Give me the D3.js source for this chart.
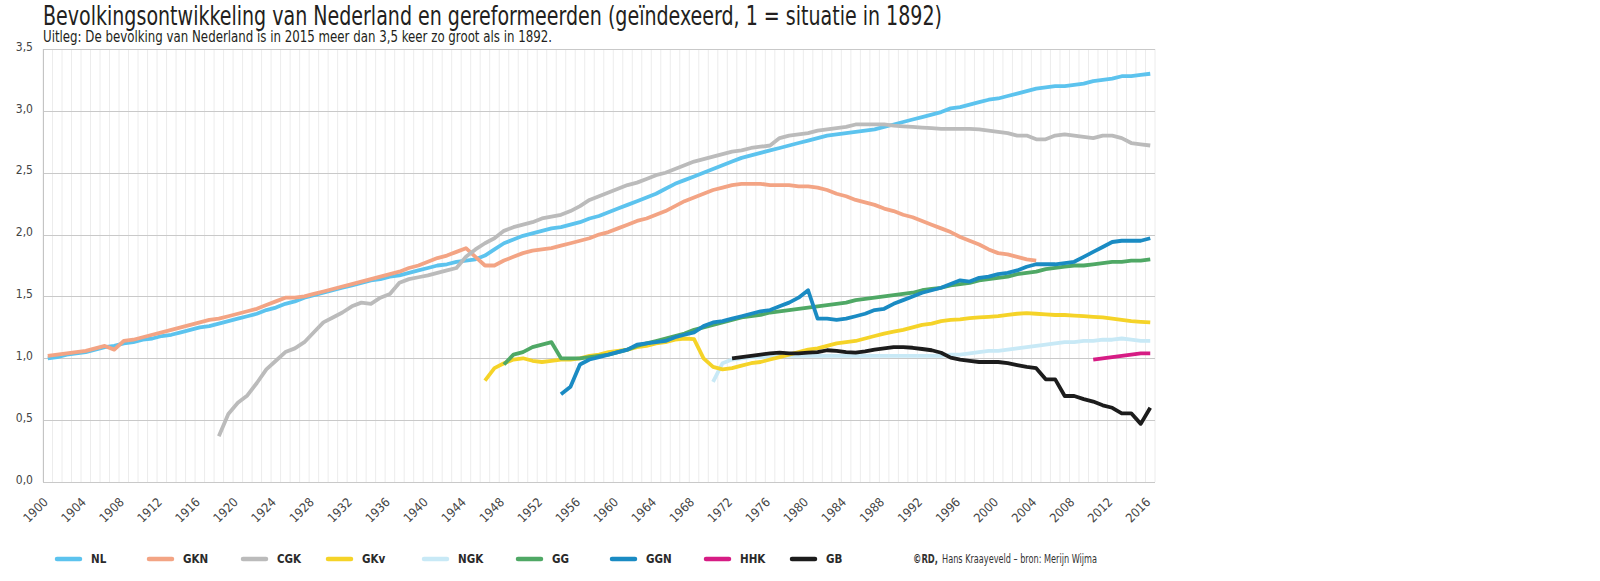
<!DOCTYPE html>
<html><head><meta charset="utf-8">
<script src="https://cdn.jsdelivr.net/npm/d3@7"></script>
<style>
body{margin:0;background:#fff;}
svg{display:block;font-family:"Liberation Sans Narrow","DejaVu Sans Condensed","Liberation Sans",sans-serif;}
</style></head><body>
<svg id="chart" width="1600" height="581"></svg>
<script>
// ---------- DATA ----------
const years = d3.range(1900, 2017);
const tickYears = [1900,1904,1908,1912,1916,1920,1924,1928,1932,1936,1940,1944,1948,1952,1956,1960,1964,1968,1972,1976,1980,1984,1988,1992,1996,2000,2004,2008,2012,2016];
const yTicks = [0,0.5,1,1.5,2,2.5,3,3.5];
const seriesNames = ["NL","GKN","CGK","GKv","NGK","GG","GGN","HHK","GB"];
const seriesColors = ["#5cc3ee","#f3a484","#bbbbbb","#f5d328","#c8e9f6","#4fa865","#1a8bc3","#d61c84","#1c1c1c"];
const seriesStart = [1900,1900,1918,1946,1970,1948,1954,2010,1972];

const NL = [1.00,1.01,1.03,1.04,1.05,1.07,1.09,1.10,1.12,1.13,
1.15,1.16,1.18,1.19,1.21,1.23,1.25,1.26,1.28,1.30,
1.32,1.34,1.36,1.39,1.41,1.44,1.46,1.49,1.51,1.53,
1.55,1.57,1.59,1.61,1.63,1.64,1.66,1.67,1.69,1.71,
1.73,1.75,1.76,1.78,1.79,1.80,1.83,1.88,1.93,1.96,
1.99,2.01,2.03,2.05,2.06,2.08,2.10,2.13,2.15,2.18,
2.21,2.24,2.27,2.30,2.33,2.37,2.41,2.44,2.47,2.50,
2.53,2.56,2.59,2.62,2.64,2.66,2.68,2.70,2.72,2.74,
2.76,2.78,2.80,2.81,2.82,2.83,2.84,2.85,2.87,2.89,
2.91,2.93,2.95,2.97,2.99,3.02,3.03,3.05,3.07,3.09,
3.10,3.12,3.14,3.16,3.18,3.19,3.20,3.20,3.21,3.22,
3.24,3.25,3.26,3.28,3.28,3.29,3.30];

const GKN = [1.02,1.03,1.04,1.05,1.06,1.08,1.10,1.07,1.14,1.15,
1.17,1.19,1.21,1.23,1.25,1.27,1.29,1.31,1.32,1.34,
1.36,1.38,1.40,1.43,1.46,1.49,1.49,1.50,1.52,1.54,
1.56,1.58,1.60,1.62,1.64,1.66,1.68,1.70,1.73,1.75,
1.78,1.81,1.83,1.86,1.89,1.82,1.75,1.75,1.79,1.82,
1.85,1.87,1.88,1.89,1.91,1.93,1.95,1.97,2.00,2.02,
2.05,2.08,2.11,2.13,2.16,2.19,2.23,2.27,2.30,2.33,
2.36,2.38,2.40,2.41,2.41,2.41,2.40,2.40,2.40,2.39,
2.39,2.38,2.36,2.33,2.31,2.28,2.26,2.24,2.21,2.19,
2.16,2.14,2.11,2.08,2.05,2.02,1.98,1.95,1.92,1.88,
1.85,1.84,1.82,1.80,1.79];

const CGK = [0.37,0.55,
0.64,0.70,0.80,0.91,0.98,1.05,1.08,1.13,1.21,1.29,
1.33,1.37,1.42,1.45,1.44,1.49,1.52,1.61,1.64,1.655,
1.67,1.69,1.71,1.73,1.82,1.88,1.93,1.97,2.03,2.06,
2.08,2.10,2.13,2.145,2.16,2.19,2.23,2.28,2.31,2.34,
2.37,2.40,2.42,2.45,2.48,2.50,2.53,2.56,2.59,2.61,
2.63,2.65,2.67,2.68,2.70,2.71,2.72,2.78,2.80,2.81,
2.82,2.84,2.85,2.86,2.87,2.89,2.89,2.89,2.89,2.88,
2.875,2.87,2.865,2.86,2.855,2.855,2.855,2.855,2.85,2.84,
2.83,2.82,2.80,2.80,2.77,2.77,2.80,2.81,2.80,2.79,
2.78,2.80,2.80,2.78,2.74,2.73,2.72];

const GKv = [0.82,0.92,0.96,0.99,
1.00,0.98,0.97,0.98,0.99,0.99,1.00,1.02,1.03,1.05,
1.06,1.07,1.09,1.10,1.12,1.13,1.15,1.16,1.155,1.00,
0.93,0.91,0.92,0.94,0.96,0.97,0.99,1.01,1.03,1.05,
1.07,1.08,1.10,1.12,1.13,1.14,1.16,1.18,1.20,1.215,
1.23,1.25,1.27,1.28,1.30,1.31,1.315,1.325,1.33,1.335,
1.34,1.35,1.36,1.365,1.36,1.355,1.35,1.35,1.345,1.34,
1.335,1.33,1.32,1.31,1.30,1.295,1.29];

const NGK = [0.81,0.96,0.99,1.00,1.01,1.01,1.01,1.02,1.02,1.02,
1.02,1.02,1.02,1.02,1.02,1.02,1.02,1.02,1.02,1.02,
1.02,1.02,1.02,1.02,1.02,1.03,1.03,1.04,1.05,1.06,
1.06,1.07,1.08,1.09,1.10,1.11,1.12,1.13,1.13,1.14,
1.14,1.15,1.15,1.16,1.15,1.14,1.14];

const GG = [0.95,1.03,
1.05,1.09,1.11,1.13,1.00,1.00,1.00,1.01,1.02,1.03,
1.05,1.07,1.10,1.12,1.14,1.16,1.18,1.20,1.23,1.25,
1.27,1.29,1.31,1.33,1.34,1.35,1.37,1.38,1.39,1.40,
1.41,1.42,1.43,1.44,1.45,1.47,1.48,1.49,1.50,1.51,
1.52,1.53,1.55,1.56,1.57,1.59,1.60,1.61,1.63,1.64,
1.65,1.66,1.68,1.69,1.70,1.72,1.73,1.74,1.75,1.75,
1.76,1.77,1.78,1.78,1.79,1.79,1.80];

const GGN = [0.71,0.77,0.95,0.99,1.01,1.03,
1.05,1.07,1.11,1.12,1.13,1.14,1.17,1.19,1.21,1.26,
1.29,1.30,1.32,1.34,1.36,1.38,1.39,1.42,1.45,1.49,
1.55,1.32,1.32,1.31,1.32,1.34,1.36,1.39,1.40,1.44,
1.47,1.50,1.53,1.55,1.57,1.60,1.63,1.62,1.65,1.66,
1.68,1.69,1.71,1.74,1.76,1.76,1.76,1.77,1.78,1.82,
1.86,1.90,1.94,1.95,1.95,1.95,1.97];

const HHK = [0.99,1.00,1.01,1.02,1.03,1.04,1.04];

const GB = [1.00,1.01,1.02,1.03,1.04,1.045,1.04,1.04,
1.045,1.05,1.065,1.06,1.05,1.045,1.055,1.07,1.08,1.09,
1.09,1.085,1.075,1.065,1.045,1.005,0.99,0.98,0.97,0.97,
0.97,0.96,0.945,0.93,0.92,0.83,0.83,0.695,0.695,0.67,
0.65,0.62,0.60,0.555,0.555,0.47,0.60];

const seriesValues = [NL,GKN,CGK,GKv,NGK,GG,GGN,HHK,GB];
const drawOrder = [0,1,2,4,3,5,6,7,8];
const legendX = [55,147,241,326,422,516,610,704,790];

// ---------- CHART ----------
const svg = d3.select("#chart");
const x = d3.scaleBand().domain(years).range([43,1155]);
const y = d3.scaleLinear().domain([0,3.5]).range([482,49]);
const cx = yr => x(yr) + x.bandwidth()/2;
const textCol = "#2a2a2a";

// vertical year grid
svg.append("g").selectAll("line").data(years.concat([2017])).join("line")
  .attr("x1", d => d === 2017 ? 1155 : x(d)).attr("x2", d => d === 2017 ? 1155 : x(d))
  .attr("y1", 49).attr("y2", 482)
  .attr("stroke", "#ececec").attr("stroke-width", 1);

// horizontal grid
svg.append("g").selectAll("line").data(yTicks).join("line")
  .attr("x1", 43).attr("x2", 1155)
  .attr("y1", d => Math.round(y(d)) + 0.5).attr("y2", d => Math.round(y(d)) + 0.5)
  .attr("stroke", "#c9c9c9").attr("stroke-width", 1);

// left axis line
svg.append("line").attr("x1", 43.5).attr("x2", 43.5).attr("y1", 49).attr("y2", 482)
  .attr("stroke", "#c4c4c4");

// y axis labels
const yAxis = svg.append("g").attr("transform", "translate(43,0)")
  .call(d3.axisLeft(y).tickValues(yTicks).tickSize(0).tickPadding(10)
    .tickFormat(d => d3.format(".1f")(d).replace(".", ",")));
yAxis.select(".domain").remove();
yAxis.selectAll("text").attr("font-size", 12).attr("fill", "#444").attr("dy", "0.1em")
  .style("font-family", '"Liberation Sans Narrow","DejaVu Sans Condensed",sans-serif');

// x axis labels
const xAxis = svg.append("g").attr("transform", "translate(0,482)")
  .call(d3.axisBottom(x).tickValues(tickYears).tickSize(0));
xAxis.select(".domain").remove();
xAxis.selectAll("text")
  .attr("x", 0).attr("y", 0).attr("dy", 0)
  .attr("text-anchor", "end")
  .attr("transform", "translate(1,21) rotate(-45)")
  .attr("font-size", 12.5).attr("fill", "#444")
  .style("font-family", '"Liberation Sans Narrow","DejaVu Sans Condensed",sans-serif');

// lines
const lineGen = d3.line().x(d => cx(d.year)).y(d => y(d.value)).curve(d3.curveLinear);
drawOrder.forEach(i => {
  const pts = seriesValues[i].map((v, k) => ({year: seriesStart[i] + k, value: v}));
  svg.append("path").datum(pts)
    .attr("d", lineGen)
    .attr("fill", "none")
    .attr("stroke", seriesColors[i])
    .attr("stroke-width", 3.8)
    .attr("stroke-linejoin", "round")
    .attr("stroke-linecap", "butt");
});

// title & subtitle
svg.append("text").attr("x", 43).attr("y", 25)
  .attr("font-size", 26).attr("fill", "#231f20")
  .attr("textLength", 899).attr("lengthAdjust", "spacingAndGlyphs")
  .text("Bevolkingsontwikkeling van Nederland en gereformeerden (geïndexeerd, 1 = situatie in 1892)");
svg.append("text").attr("x", 43).attr("y", 42)
  .attr("font-size", 15).attr("fill", "#231f20")
  .attr("textLength", 509).attr("lengthAdjust", "spacingAndGlyphs")
  .text("Uitleg: De bevolking van Nederland is in 2015 meer dan 3,5 keer zo groot als in 1892.");

// legend
const leg = svg.append("g").selectAll("g").data(seriesNames).join("g")
  .attr("transform", (d, i) => `translate(${legendX[i]},559)`);
leg.append("line").attr("x1", 2).attr("x2", 25).attr("y1", 0).attr("y2", 0)
  .attr("stroke", (d, i) => seriesColors[i]).attr("stroke-width", 4.5).attr("stroke-linecap", "round");
leg.append("text").attr("x", 36).attr("y", 4)
  .attr("font-size", 11.5).attr("font-weight", "bold").attr("fill", textCol)
  .text(d => d);

// credit
svg.append("text").attr("x", 913).attr("y", 563)
  .attr("font-size", 11.5).attr("font-weight", "bold").attr("fill", "#333")
  .attr("textLength", 25).attr("lengthAdjust", "spacingAndGlyphs")
  .text("©RD,");
svg.append("text").attr("x", 942).attr("y", 563)
  .attr("font-size", 11.5).attr("fill", "#333")
  .attr("textLength", 155).attr("lengthAdjust", "spacingAndGlyphs")
  .text("Hans Kraayeveld – bron: Merijn Wijma");
</script>
</body></html>
